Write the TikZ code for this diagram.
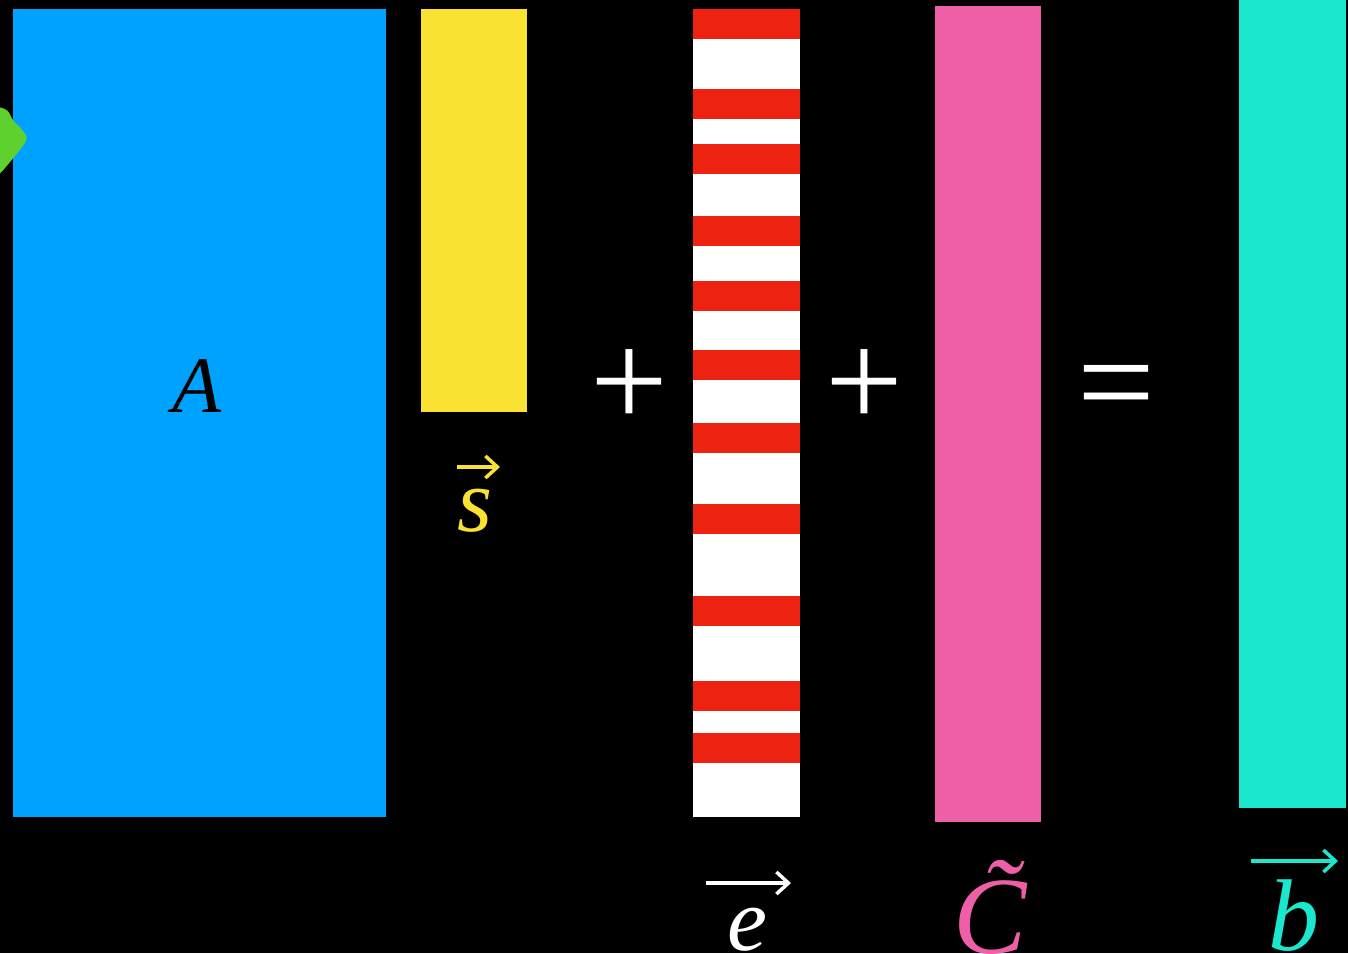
\documentclass[tikz,border=0pt]{standalone}
\usepackage{fontspec}
\setmainfont{Liberation Serif}
\usetikzlibrary{arrows.meta}
\definecolor{cblue}{HTML}{00A2FF}
\definecolor{cyellow}{HTML}{F9E231}
\definecolor{cred}{HTML}{EE2210}
\definecolor{cpink}{HTML}{EF5FA8}
\definecolor{ccyan}{HTML}{19E8CF}
\definecolor{cgreen}{HTML}{5ED12E}
\tikzset{
  lbl/.style={anchor=base, inner sep=0pt, font=\fontsize{90}{90}\selectfont\itshape},
  op/.style={anchor=base, inner sep=0pt, text=white, font=\fontsize{138}{138}\selectfont},
  vecarrow/.style={line width=3.5pt, -{Straight Barb[length=12pt,width=22pt,line width=3.5pt]}},
  redstripe/.style={fill=cred}
}
\begin{document}
\begin{tikzpicture}[x=1pt,y=-1pt]
\fill[black] (0,0) rectangle (1348,953);
\useasboundingbox (0,0) rectangle (1348,953);
% matrix A
\fill[cblue] (13,9) rectangle (386,817);
% green blob
\fill[cgreen, rounded corners=4pt] (-10,104) -- (8,110) -- (13,121) -- (21,128) -- (28,138) -- (20,150) -- (0,174) -- (-10,180) -- cycle;
% s
\fill[cyellow] (421,9) rectangle (527,412);
% e
\fill[white] (693,9) rectangle (800,817);
\foreach \y in {9,89,144,216,281,350,423,504,596,681,733}
  \fill[redstripe] (693,\y) rectangle (800,\y+30);
% C
\fill[cpink] (935,6) rectangle (1041,822);
% b
\fill[ccyan] (1239,0) rectangle (1346,808);
% labels
\node[lbl, text=black, font=\fontsize{80}{80}\selectfont\itshape] (lA) at (197,412) {A};
\node[lbl, text=cyellow] (ls) at (475,531) {s};
\coordinate (sa1) at (457,467); \coordinate (sa2) at (500,467);
\draw[vecarrow, cyellow] (sa1) -- (sa2);
\node[lbl, text=white] (le) at (747,950) {e};
\coordinate (ea1) at (706,883); \coordinate (ea2) at (791,883);
\draw[vecarrow, white] (ea1) -- (ea2);
\node[lbl, text=cpink, font=\fontsize{110}{110}\selectfont\itshape] (lC) at (990,953) {\~{C}};
\node[lbl, text=ccyan, font=\fontsize{102}{102}\selectfont\itshape] (lb) at (1294,950) {b};
\coordinate (ba1) at (1251,861); \coordinate (ba2) at (1338,861);
\draw[vecarrow, ccyan] (ba1) -- (ba2);
% operators
\node[op] (p1) at (629,427) {+};
\node[op] (p2) at (864,427) {+};
\node[op] (eq) at (1116,428) {=};
\end{tikzpicture}
\end{document}
